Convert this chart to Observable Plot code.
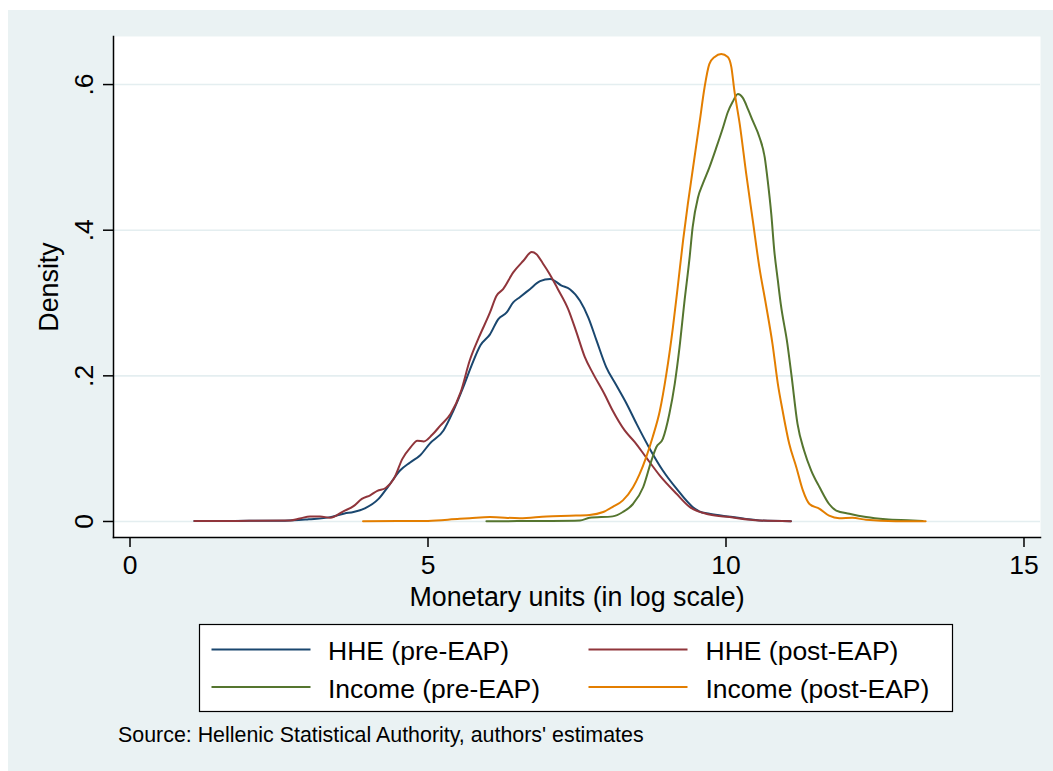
<!DOCTYPE html>
<html>
<head>
<meta charset="utf-8">
<script src="https://cdn.jsdelivr.net/npm/d3@7"></script>
<script src="https://cdn.jsdelivr.net/npm/@observablehq/plot@0.6"></script>
<style>
  html, body { margin: 0; padding: 0; background: #ffffff; overflow: hidden; }
  #page { position: relative; width: 1053px; height: 771px; font-family: "Liberation Sans", Arial, Helvetica, sans-serif; }
  #bg { position: absolute; left: 8px; top: 10px; right: 0; bottom: 0; background: #eaf2f3; }
  #chart { position: absolute; left: 0; top: 0; }
  #legend { position: absolute; left: 0; top: 620px; }
</style>
</head>
<body>
<div id="page">
  <div id="bg"></div>
  <div id="chart"></div>
  <div id="legend"></div>
</div>
<script>
// Kernel density estimates of log monetary units: [log value, density]
const hhePre = [
  [1.08,0.0005],[1.5,0.0005],[2.0,0.001],[2.6,0.001],[3.0,0.003],[3.36,0.006],[3.6,0.011],
  [3.75,0.013],[3.94,0.018],[4.17,0.031],[4.34,0.049],[4.53,0.070],[4.70,0.081],[4.87,0.091],
  [5.03,0.107],[5.26,0.125],[5.42,0.151],[5.59,0.184],[5.73,0.214],[5.88,0.242],[6.04,0.257],
  [6.18,0.278],[6.32,0.287],[6.43,0.301],[6.54,0.308],[6.71,0.319],[6.88,0.330],[7.05,0.333],
  [7.24,0.324],[7.38,0.319],[7.55,0.303],[7.69,0.280],[7.83,0.248],[7.99,0.212],[8.16,0.187],
  [8.33,0.162],[8.50,0.134],[8.72,0.100],[8.94,0.070],[9.17,0.045],[9.44,0.020],[9.55,0.014],
  [9.72,0.0105],[10.08,0.0065],[10.56,0.0014],[11.09,0.0004]
];
const hhePost = [
  [1.08,0.0005],[1.5,0.0005],[2.0,0.001],[2.69,0.0014],[2.85,0.004],[3.02,0.007],[3.19,0.007],
  [3.36,0.005],[3.58,0.014],[3.75,0.021],[3.89,0.031],[4.03,0.036],[4.15,0.042],[4.29,0.046],
  [4.43,0.059],[4.57,0.086],[4.71,0.102],[4.82,0.111],[4.93,0.110],[5.07,0.119],[5.21,0.132],
  [5.38,0.148],[5.55,0.178],[5.70,0.221],[5.85,0.252],[6.04,0.287],[6.15,0.310],[6.26,0.319],
  [6.43,0.342],[6.60,0.358],[6.74,0.370],[6.82,0.367],[6.93,0.354],[7.04,0.340],[7.18,0.319],
  [7.35,0.292],[7.49,0.260],[7.63,0.226],[7.77,0.203],[7.96,0.175],[8.10,0.152],[8.30,0.125],
  [8.47,0.109],[8.66,0.088],[8.89,0.063],[9.17,0.038],[9.39,0.020],[9.72,0.0096],[10.06,0.006],
  [10.56,0.0014],[11.09,0.0004]
];
const incomePre = [
  [5.98,0.0004],[6.5,0.0005],[7.0,0.0007],[7.55,0.0014],[7.71,0.005],[8.10,0.007],[8.27,0.013],
  [8.44,0.024],[8.61,0.047],[8.75,0.084],[8.83,0.102],[8.94,0.1135],[9.05,0.148],[9.14,0.189],
  [9.22,0.239],[9.30,0.300],[9.39,0.363],[9.44,0.404],[9.53,0.445],[9.61,0.4635],[9.72,0.486],
  [9.84,0.514],[9.95,0.541],[10.03,0.562],[10.11,0.576],[10.20,0.587],[10.28,0.582],[10.37,0.566],
  [10.45,0.550],[10.56,0.528],[10.65,0.500],[10.70,0.468],[10.76,0.422],[10.81,0.372],[10.87,0.331],
  [10.92,0.298],[11.03,0.244],[11.10,0.200],[11.20,0.134],[11.31,0.0975],[11.43,0.070],[11.57,0.047],
  [11.73,0.024],[11.85,0.015],[12.07,0.0105],[12.35,0.006],[12.68,0.003],[13.13,0.0014],[13.3,0.0005]
];
const incomePost = [
  [3.91,0.0004],[4.5,0.0005],[5.0,0.0008],[5.53,0.0037],[5.70,0.0045],[6.04,0.006],[6.54,0.0045],
  [6.99,0.007],[7.38,0.008],[7.71,0.009],[7.94,0.013],[8.10,0.020],[8.27,0.029],[8.44,0.047],
  [8.55,0.065],[8.66,0.088],[8.77,0.116],[8.89,0.152],[9.0,0.203],[9.11,0.267],[9.19,0.322],
  [9.28,0.386],[9.36,0.436],[9.44,0.482],[9.56,0.550],[9.64,0.596],[9.72,0.628],[9.81,0.638],
  [9.92,0.642],[10.03,0.638],[10.09,0.624],[10.14,0.592],[10.23,0.546],[10.34,0.477],[10.45,0.413],
  [10.56,0.349],[10.67,0.298],[10.78,0.244],[10.87,0.189],[10.95,0.152],[11.06,0.107],[11.18,0.0745],
  [11.29,0.0426],[11.40,0.024],[11.57,0.0174],[11.73,0.008],[11.90,0.0045],[12.12,0.005],
  [12.35,0.0023],[12.85,0.0004],[13.35,0.0003]
];

const seriesNames = ["HHE (pre-EAP)", "HHE (post-EAP)", "Income (pre-EAP)", "Income (post-EAP)"];
const seriesColors = ["#1a476f", "#90353b", "#55752f", "#e37e00"];
const seriesData = [hhePre, hhePost, incomePre, incomePost];

const xTicks = [0, 5, 10, 15];
const yTicks = [0, 0.2, 0.4, 0.6];
const xLabel = "Monetary units (in log scale)";
const yLabel = "Density";
const sourceNote = "Source: Hellenic Statistical Authority, authors' estimates";

const FONT = '"Liberation Sans", Arial, Helvetica, sans-serif';
const fmtY = d => d === 0 ? "0" : String(d).replace(/^0/, "");

const rows = seriesData.flatMap((pts, i) =>
  pts.map(([x, y]) => ({series: seriesNames[i], x, y})));

const chart = Plot.plot({
  width: 1053,
  height: 620,
  marginLeft: 113,
  marginRight: 13,
  marginTop: 36,
  marginBottom: 83,
  style: {background: "transparent", fontFamily: FONT, color: "#000", overflow: "visible"},
  x: {domain: [-0.277, 15.277]},
  y: {domain: [-0.022, 0.666]},
  color: {domain: seriesNames, range: seriesColors},
  marks: [
    Plot.frame({fill: "white", stroke: "none"}),
    Plot.gridY(yTicks, {stroke: "#e4eef0", strokeOpacity: 1, strokeWidth: 1.6}),
    ...seriesNames.map(name =>
      Plot.line(rows.filter(r => r.series === name), {
        x: "x", y: "y", stroke: "series", strokeWidth: 2, curve: "monotone-x"
      })),
    Plot.frame({anchor: "left", stroke: "#000", strokeWidth: 1.5}),
    Plot.frame({anchor: "bottom", stroke: "#000", strokeWidth: 1.5}),
    Plot.axisX(xTicks, {
      tickSize: 10, tickPadding: 7.5, fontSize: 26.5, strokeWidth: 1.5,
      tickFormat: d => String(d), label: null
    }),
    Plot.axisY(yTicks, {
      tickSize: 10, strokeWidth: 1.5, tickFormat: () => "", label: null
    }),
    Plot.text(yTicks, {
      frameAnchor: "left", y: d => d, text: fmtY, rotate: -90, dx: -21,
      textAnchor: "middle", lineAnchor: "bottom", fontSize: 26.5, fill: "#000"
    }),
    Plot.text([yLabel], {
      frameAnchor: "left", text: d => d, rotate: -90, dx: -56,
      textAnchor: "middle", lineAnchor: "bottom", fontSize: 26.8, fill: "#000"
    }),
    Plot.text([xLabel], {
      frameAnchor: "bottom", text: d => d, dy: 68,
      lineAnchor: "bottom", fontSize: 26.8, fill: "#000"
    })
  ]
});
document.getElementById("chart").appendChild(chart);

// Legend box and source note below the chart
const leg = d3.create("svg")
  .attr("width", 1053)
  .attr("height", 151)
  .style("display", "block")
  .style("font-family", FONT);

leg.append("rect")
  .attr("x", 199.5).attr("y", 4.5)
  .attr("width", 753).attr("height", 87)
  .attr("fill", "#fff").attr("stroke", "#000").attr("stroke-width", 1.2);

const cols = [{line: 211.5, text: 328}, {line: 588.5, text: 705.5}];
const rowY = [29.5, 67];
seriesNames.forEach((name, i) => {
  const c = cols[i % 2], ry = rowY[Math.floor(i / 2)];
  leg.append("line")
    .attr("x1", c.line).attr("x2", c.line + 99)
    .attr("y1", ry).attr("y2", ry)
    .attr("stroke", seriesColors[i]).attr("stroke-width", 2);
  leg.append("text")
    .attr("x", c.text).attr("y", ry + 10.5)
    .attr("font-size", 26.5).attr("fill", "#000")
    .text(name);
});

leg.append("text")
  .attr("x", 118).attr("y", 122)
  .attr("font-size", 21.4).attr("fill", "#000")
  .text(sourceNote);

document.getElementById("legend").appendChild(leg.node());
</script>
</body>
</html>
